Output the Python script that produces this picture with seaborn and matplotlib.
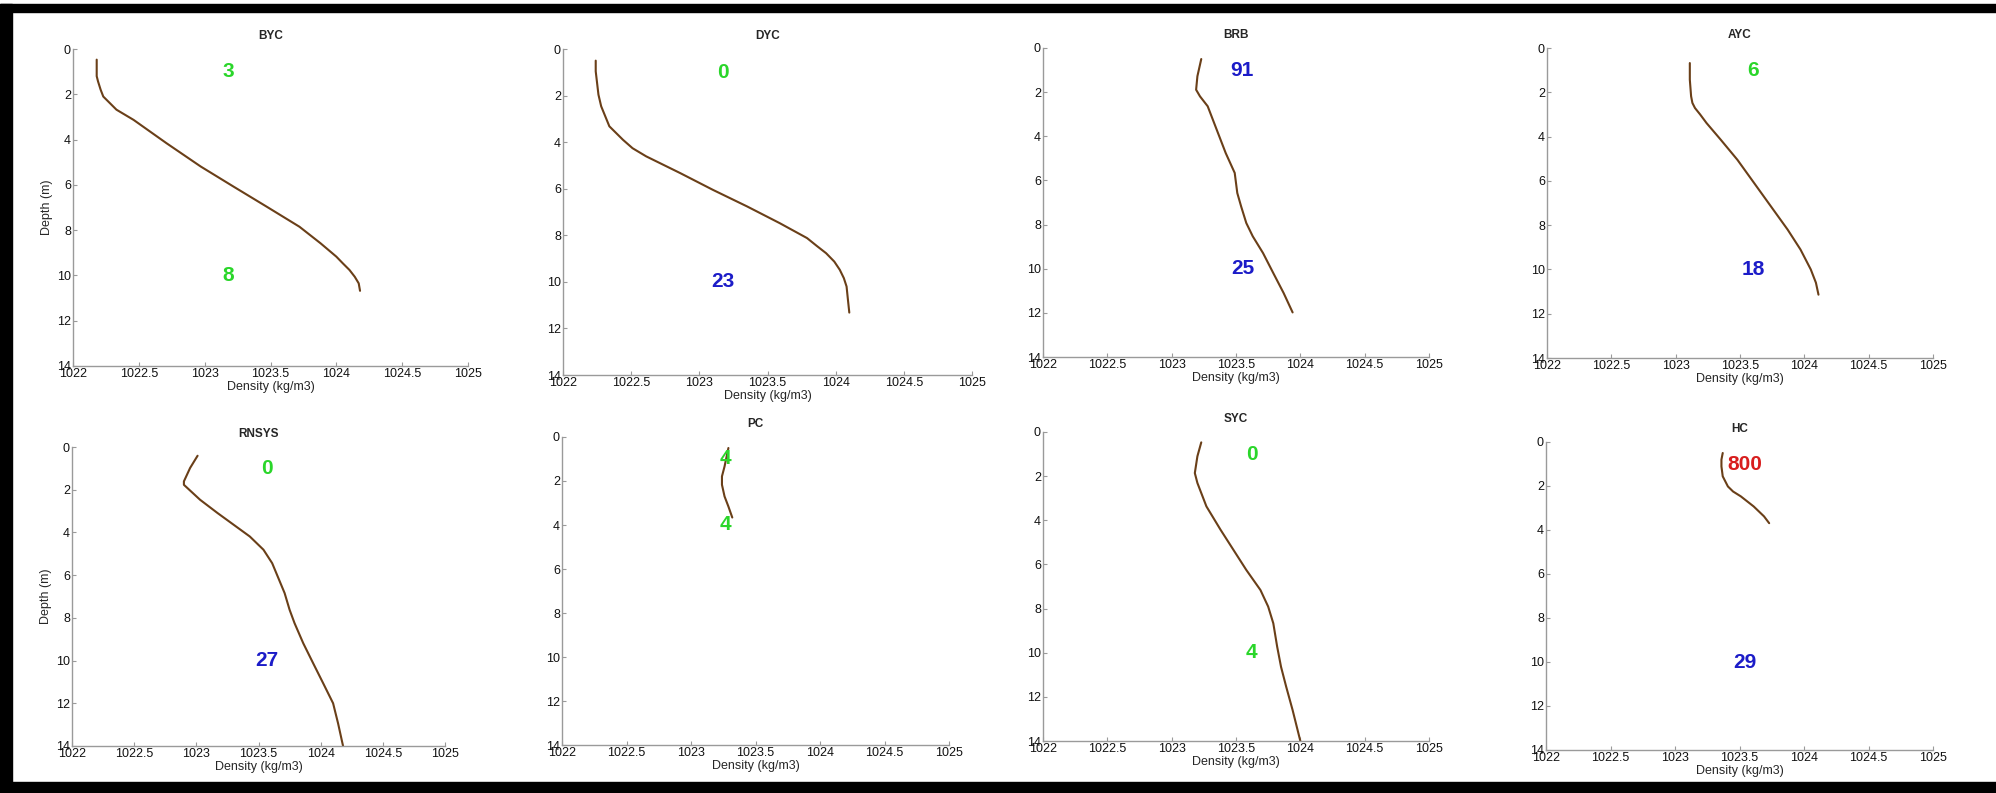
import matplotlib
matplotlib.use("Agg")
import matplotlib.pyplot as plt
import matplotlib.patches as mpatches
from matplotlib.ticker import FormatStrFormatter
import seaborn as sns

# station names and the two counts written on each panel
stations = ["BYC", "DYC", "BRB", "AYC", "RNSYS", "PC", "SYC", "HC"]
top_counts = ["3", "0", "91", "6", "0", "4", "0", "800"]
bottom_counts = ["8", "23", "25", "18", "27", "4", "4", "29"]
top_depth = [1.0, 1.0, 1.0, 1.0, 1.0, 1.0, 1.0, 1.0]
bottom_depth = [10.0, 10.0, 10.0, 10.0, 10.0, 4.0, 10.0, 10.0]

# density profiles (depth in m, density in kg/m3)
byc_depth = [0.47, 0.84, 1.2, 1.43, 1.8, 2.1, 2.39, 2.68, 3.13, 4.16, 5.19, 6.08, 6.96, 7.85,
             8.58, 9.17, 9.47, 9.76, 10.06, 10.35, 10.68]
byc_density = [1022.18, 1022.18, 1022.18, 1022.19, 1022.21, 1022.23, 1022.28, 1022.33, 1022.46,
               1022.71, 1022.97, 1023.22, 1023.47, 1023.72, 1023.88, 1024.0, 1024.05, 1024.10,
               1024.14, 1024.17, 1024.18]

dyc_depth = [0.5, 0.96, 1.46, 1.96, 2.46, 2.89, 3.32, 3.61, 3.9, 4.26, 4.61, 5.33, 6.05, 6.76,
             7.48, 8.12, 8.45, 8.77, 9.13, 9.48, 9.84, 10.2, 10.77, 11.32]
dyc_density = [1022.24, 1022.24, 1022.25, 1022.26, 1022.28, 1022.31, 1022.34, 1022.39, 1022.44,
               1022.51, 1022.61, 1022.86, 1023.10, 1023.35, 1023.59, 1023.79, 1023.86, 1023.93,
               1023.99, 1024.03, 1024.06, 1024.08, 1024.09, 1024.10]

brb_depth = [0.5, 1.28, 1.89, 2.19, 2.64, 3.7, 4.76, 5.66, 6.57, 7.18, 7.93, 8.53, 9.29, 10.2, 11.1, 11.98]
brb_density = [1023.23, 1023.20, 1023.19, 1023.22, 1023.28, 1023.35, 1023.42, 1023.49, 1023.51,
               1023.54, 1023.58, 1023.63, 1023.71, 1023.79, 1023.87, 1023.94]

ayc_depth = [0.68, 1.43, 2.18, 2.48, 2.71, 3.0, 3.39, 4.14, 5.05, 6.1, 7.15, 8.2, 9.1, 10.0, 10.3,
             10.6, 11.14]
ayc_density = [1023.11, 1023.11, 1023.12, 1023.13, 1023.15, 1023.19, 1023.24, 1023.35, 1023.48,
               1023.61, 1023.74, 1023.87, 1023.97, 1024.05, 1024.07, 1024.09, 1024.11]

rnsys_depth = [0.41, 0.98, 1.61, 1.77, 2.47, 3.09, 3.64, 4.19, 4.81, 5.44, 6.14, 6.84, 7.62, 8.25,
               9.19, 10.13, 11.06, 12.0, 12.94, 14.0]
rnsys_density = [1023.01, 1022.95, 1022.90, 1022.90, 1023.03, 1023.17, 1023.30, 1023.43, 1023.54,
                 1023.61, 1023.66, 1023.71, 1023.75, 1023.79, 1023.86, 1023.94, 1024.02, 1024.10,
                 1024.14, 1024.18]

pc_depth = [0.5, 1.34, 1.79, 2.17, 2.7, 3.16, 3.66]
pc_density = [1023.29, 1023.26, 1023.24, 1023.24, 1023.26, 1023.29, 1023.32]

syc_depth = [0.47, 1.1, 1.86, 2.31, 3.37, 4.43, 5.34, 6.25, 7.16, 7.91, 8.67, 9.73, 10.64, 11.54, 12.6, 14.0]
syc_density = [1023.23, 1023.20, 1023.18, 1023.20, 1023.27, 1023.38, 1023.48, 1023.58, 1023.69,
               1023.75, 1023.79, 1023.82, 1023.85, 1023.89, 1023.94, 1024.0]

hc_depth = [0.5, 0.8, 1.11, 1.56, 1.79, 2.02, 2.25, 2.47, 2.93, 3.38, 3.69]
hc_density = [1023.37, 1023.36, 1023.36, 1023.37, 1023.39, 1023.41, 1023.45, 1023.51, 1023.61,
              1023.69, 1023.73]

depths = [byc_depth, dyc_depth, brb_depth, ayc_depth, rnsys_depth, pc_depth, syc_depth, hc_depth]
densities = [byc_density, dyc_density, brb_density, ayc_density, rnsys_density, pc_density,
             syc_density, hc_density]

# styling / layout (pixels in a 1996x793 canvas)
W, H = 1996, 793
axes_px = [
    (73, 49, 468, 366), (563, 49, 972, 375), (1043, 48, 1429, 357), (1547, 48, 1933, 358),
    (72, 447, 445, 746), (562, 437, 949, 745), (1043, 432, 1429, 741), (1546, 442, 1933, 750),
]
label_x = [1023.18, 1023.17, 1023.55, 1023.6, 1023.57, 1023.27, 1023.62, 1023.54]
top_colors = ["green", "green", "blue", "green", "green", "green", "green", "red"]
bottom_colors = ["green", "blue", "blue", "blue", "blue", "green", "green", "blue"]
palette = {"green": "#2ad62a", "blue": "#1c1cc8", "red": "#d81e1e"}
line_color = "#6a3f18"
spine_color = "#9a9a9a"

sns.set_theme(style="white")
plt.rcParams["font.family"] = ["Liberation Sans", "DejaVu Sans"]

fig = plt.figure(figsize=(W / 100, H / 100), dpi=100)
fig.patch.set_facecolor("white")

for i, name in enumerate(stations):
    l, t, r, b = axes_px[i]
    ax = fig.add_axes([l / W, 1 - b / H, (r - l) / W, (b - t) / H])
    sns.lineplot(x=densities[i], y=depths[i], sort=False, estimator=None,
                 color=line_color, linewidth=1.5, ax=ax)
    ax.set_xlim(1022, 1025)
    ax.set_ylim(14, 0)
    ax.set_xticks([1022, 1022.5, 1023, 1023.5, 1024, 1024.5, 1025])
    ax.set_yticks([0, 2, 4, 6, 8, 10, 12, 14])
    ax.xaxis.set_major_formatter(FormatStrFormatter("%g"))
    ax.tick_params(direction="in", length=3, width=0.8, color=spine_color,
                   labelsize=9, labelcolor="#111111", pad=1.5,
                   bottom=True, left=True, top=False, right=False)
    for side in ["top", "right"]:
        ax.spines[side].set_visible(False)
    for side in ["left", "bottom"]:
        ax.spines[side].set_color(spine_color)
        ax.spines[side].set_linewidth(1.0)
    ax.set_facecolor("white")
    ax.grid(False)
    ax.set_title(name, fontsize=8.5, fontweight="bold", pad=7)
    ax.set_xlabel("Density (kg/m3)", fontsize=9, labelpad=1)
    if i % 4 == 0:
        ax.set_ylabel("Depth (m)", fontsize=9, labelpad=3)
    else:
        ax.set_ylabel("")
    ax.text(label_x[i], top_depth[i], top_counts[i], color=palette[top_colors[i]],
            fontsize=15, fontweight="bold", ha="center", va="center")
    ax.text(label_x[i], bottom_depth[i], bottom_counts[i], color=palette[bottom_colors[i]],
            fontsize=15, fontweight="bold", ha="center", va="center")

# black frame around the composite (top, left, bottom bands)
fig.patches.append(mpatches.Rectangle((0, 1 - 12 / H), 1, 8 / H, transform=fig.transFigure,
                                      color="black", zorder=10))
fig.patches.append(mpatches.Rectangle((0, 0), 12 / W, 1 - 4 / H, transform=fig.transFigure,
                                      color="black", zorder=10))
fig.patches.append(mpatches.Rectangle((0, 0), 1, 11 / H, transform=fig.transFigure,
                                      color="black", zorder=10))

fig.savefig("out.png", dpi=100, facecolor="white")
